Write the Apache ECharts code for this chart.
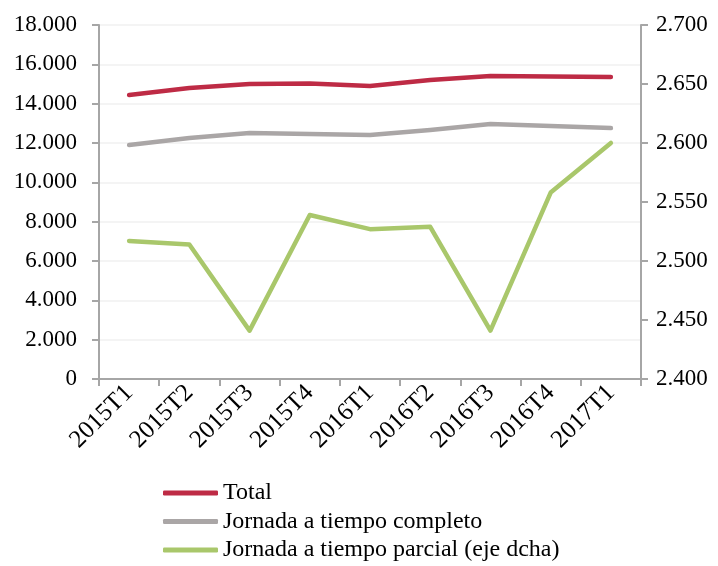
<!DOCTYPE html>
<html>
<head>
<meta charset="utf-8">
<script src="https://cdn.jsdelivr.net/npm/echarts@6/dist/echarts.min.js"></script>
<style>
  html, body { margin: 0; padding: 0; background: #fff; }
  #chart { width: 718px; height: 566px; }
</style>
</head>
<body>
<div id="chart"></div>
<script>
// quarters on the x axis
const categories = ['2015T1', '2015T2', '2015T3', '2015T4', '2016T1', '2016T2', '2016T3', '2016T4', '2017T1']
// left axis (miles)
const totalData = [14440, 14800, 15000, 15020, 14900, 15200, 15410, 15380, 15360]
const completoData = [11900, 12250, 12510, 12460, 12410, 12660, 12970, 12870, 12760]
// right axis (eje dcha)
const parcialData = [2517, 2514, 2441, 2539, 2527, 2529, 2441, 2558, 2600]
const seriesNames = ['Total', 'Jornada a tiempo completo', 'Jornada a tiempo parcial (eje dcha)']

const fontFamily = '"Liberation Serif", "DejaVu Serif", serif'
const axisGray = '#a6a6a6'

const fmt = (v) => String(Math.round(v)).replace(/\B(?=(\d{3})+(?!\d))/g, '.')

const chart = echarts.init(document.getElementById('chart'))
const option = {
  animation: false,
  textStyle: { fontFamily: fontFamily },
  grid: { left: 99, right: 77, top: 25, bottom: 187 },
  legend: {
    orient: 'vertical',
    left: 163,
    top: 481,
    width: 500,
    height: 90,
    padding: 0,
    itemWidth: 55,
    itemHeight: 5,
    itemGap: 4.5,
    icon: 'roundRect',
    textStyle: { fontFamily: fontFamily, fontSize: 24, lineHeight: 24, color: '#000' },
    data: seriesNames
  },
  xAxis: {
    type: 'category',
    data: categories,
    boundaryGap: true,
    axisLine: { lineStyle: { color: axisGray, width: 2 } },
    axisTick: { show: true, length: 7, lineStyle: { color: axisGray, width: 2 } },
    axisLabel: {
      rotate: 45,
      interval: 0,
      margin: 10,
      fontSize: 25,
      color: '#000',
      fontFamily: fontFamily
    }
  },
  yAxis: [{
    type: 'value',
    min: 0,
    max: 18000,
    interval: 2000,
    axisLine: { show: true, lineStyle: { color: axisGray, width: 2 } },
    axisTick: { show: true, length: 7, lineStyle: { color: axisGray, width: 2 } },
    splitLine: { lineStyle: { color: '#f0f0f0', width: 1.5 } },
    axisLabel: { fontSize: 23, color: '#000', margin: 22, fontFamily: fontFamily, formatter: fmt }
  }, {
    type: 'value',
    min: 2400,
    max: 2700,
    interval: 50,
    position: 'right',
    axisLine: { show: true, lineStyle: { color: axisGray, width: 2 } },
    axisTick: { show: true, length: 7, lineStyle: { color: axisGray, width: 2 } },
    splitLine: { show: false },
    axisLabel: { fontSize: 23, color: '#000', margin: 15, fontFamily: fontFamily, formatter: fmt }
  }],
  series: [{
    name: seriesNames[0],
    type: 'line',
    data: totalData,
    yAxisIndex: 0,
    symbol: 'none',
    color: '#be2b45',
    lineStyle: { width: 4.5, cap: 'round', join: 'round' }
  }, {
    name: seriesNames[1],
    type: 'line',
    data: completoData,
    yAxisIndex: 0,
    symbol: 'none',
    color: '#aaa6a6',
    lineStyle: { width: 4.5, cap: 'round', join: 'round' }
  }, {
    name: seriesNames[2],
    type: 'line',
    data: parcialData,
    yAxisIndex: 1,
    symbol: 'none',
    color: '#a9c76b',
    lineStyle: { width: 4.5, cap: 'round', join: 'round' }
  }]
}
chart.setOption(option)
</script>
</body>
</html>
